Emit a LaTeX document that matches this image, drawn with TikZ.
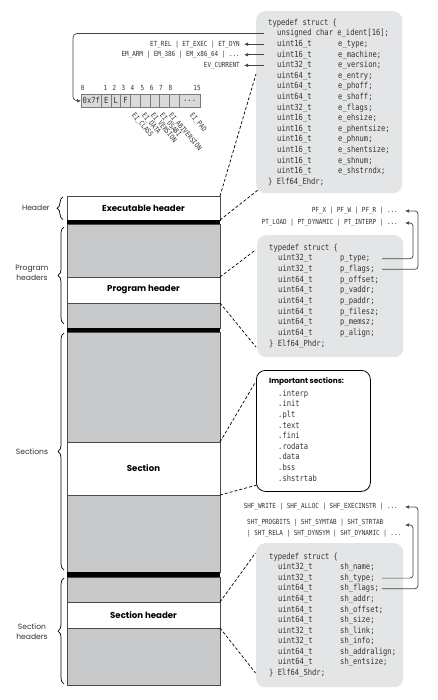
\documentclass[tikz,border=0pt]{standalone}
\usepackage{fontspec}
\setmainfont{Poppins}
\newfontfamily\codefont[FakeStretch=0.85]{DejaVu Sans Mono}
\usetikzlibrary{decorations.pathreplacing,arrows.meta,calc}
\definecolor{blockgray}{HTML}{C8C9CB}
\definecolor{structgray}{HTML}{E4E5E6}
\definecolor{edgegray}{HTML}{4A4A4A}
\definecolor{cellgray}{HTML}{DADADA}
\definecolor{cellborder}{HTML}{7A7A7A}
\definecolor{codegray}{HTML}{333333}
\definecolor{conngray}{HTML}{444444}
\begin{document}
\begin{tikzpicture}[x=1pt,y=-1pt]
\tikzset{
  blk/.style={draw=edgegray, line width=0.8pt, inner sep=0pt, outer sep=0pt, anchor=north west, minimum width=153pt},
  grayblk/.style={blk, fill=blockgray},
  whiteblk/.style={blk, fill=white, font=\bfseries\fontsize{8.6}{10}\selectfont},
  barblk/.style={fill=black, inner sep=0pt, outer sep=0pt, anchor=north west, minimum width=153.8pt},
  structbox/.style={fill=structgray, rounded corners=9pt, inner sep=0pt, anchor=north west},
  secbox/.style={draw=black, fill=white, line width=0.8pt, rounded corners=9pt, inner sep=0pt, anchor=north west},
  code/.style={anchor=west, inner sep=0pt, text=codegray, font=\codefont\fontsize{8.4}{10}\selectfont, text height=6pt, text depth=1.5pt},
  small/.style={inner sep=0pt, text=codegray, font=\codefont\fontsize{7}{10}\selectfont, text height=5pt, text depth=1.2pt},
  cell/.style={draw=cellborder, fill=cellgray, line width=0.6pt, inner sep=0pt, anchor=north west, minimum height=13pt, text=codegray, font=\codefont\fontsize{8.4}{10}\selectfont},
  sidelabel/.style={inner sep=0pt, text=codegray, font=\fontsize{7.6}{10}\selectfont, align=center},
  bracestyle/.style={decorate, decoration={brace, amplitude=6pt}, line width=0.7pt, draw=black},
  dashline/.style={draw=black, line width=0.7pt, dash pattern=on 3pt off 2pt},
  arr/.style={draw=conngray, line width=0.7pt, -{Latex[length=4pt,width=3.6pt]}},
  conn/.style={draw=conngray, line width=0.7pt}
}
\useasboundingbox[fill=white] (0,0) rectangle (438,700);

% ---------- main column ----------
\node[grayblk, minimum height=53pt] (pg1) at (67,224) {};
\node[grayblk, minimum height=25pt] (pg2) at (67,303) {};
\node[grayblk, minimum height=110pt] (sg1) at (67,332) {};
\node[grayblk, minimum height=77pt] (sg2) at (67,495) {};
\node[grayblk, minimum height=25pt] (shg1) at (67,577) {};
\node[grayblk, minimum height=57pt] (shg2) at (67,628) {};
\node[whiteblk, minimum height=24pt] (exec) at (67,196) {Executable header};
\node[whiteblk, minimum height=26pt] (ph) at (67,277) {Program header};
\node[whiteblk, minimum height=53pt] (sec) at (67,442) {Section};
\node[whiteblk, minimum height=26pt] (sh) at (67,602) {Section header};
\node[barblk, minimum height=4pt] (bar1) at (66.6,220) {};
\node[barblk, minimum height=4pt] (bar2) at (66.6,328) {};
\node[barblk, minimum height=5pt] (bar3) at (66.6,572) {};

% ---------- braces and side labels ----------
\coordinate (brHa) at (63,219.5);
\coordinate (brHb) at (63,197);
\coordinate (brPa) at (64,324);
\coordinate (brPb) at (64,227);
\coordinate (brSa) at (64,570);
\coordinate (brSb) at (64,333);
\coordinate (brTa) at (64,684);
\coordinate (brTb) at (64,578);
\draw[bracestyle] (brHa) -- (brHb);
\draw[bracestyle] (brPa) -- (brPb);
\draw[bracestyle] (brSa) -- (brSb);
\draw[bracestyle] (brTa) -- (brTb);
\node[sidelabel, anchor=east] (lblHeader) at (50,207.5) {Header};
\node[sidelabel] (lblProg) at (32,273) {Program\\headers};
\node[sidelabel] (lblSec) at (32,451.5) {Sections};
\node[sidelabel] (lblSh) at (32,631.5) {Section\\headers};

% ---------- ELF header struct ----------
\node[structbox, minimum width=146pt, minimum height=182pt] (ehdr) at (256,11) {};
\node[code] (eh0) at (268,23) {typedef struct \{};
\node[code] (eh1) at (277,33.6) {unsigned char e\_ident[16];};
\foreach \t/\n [count=\i from 2] in {uint16\_t/e\_type;,uint16\_t/e\_machine;,uint32\_t/e\_version;,uint64\_t/e\_entry;,uint64\_t/e\_phoff;,uint64\_t/e\_shoff;,uint32\_t/e\_flags;,uint16\_t/e\_ehsize;,uint16\_t/e\_phentsize;,uint16\_t/e\_phnum;,uint16\_t/e\_shentsize;,uint16\_t/e\_shnum;,uint16\_t/e\_shstrndx;}{
  \node[code] (eht\i) at (277,{23+\i*10.6}) {\t};
  \node[code] (ehn\i) at (338,{23+\i*10.6}) {\n};
}
\node[code] (eh15) at (268,{23+15*10.6}) {\} Elf64\_Ehdr;};

\node[small, anchor=east] (etl) at (240,44.2) {ET\_REL | ET\_EXEC | ET\_DYN};
\node[small, anchor=east] (eml) at (240,54.8) {EM\_ARM | EM\_386 | EM\_x86\_64 | ...};
\node[small, anchor=east] (evl) at (240,65.4) {EV\_CURRENT};
\coordinate (ehIdentS) at (264,33.6);
\coordinate (ehTypeS) at (264,44.2);
\coordinate (ehMachS) at (264,54.8);
\coordinate (ehVerS) at (264,65.4);
\draw[arr] (ehTypeS) -- ([xshift=4pt]etl.east);
\draw[arr] (ehMachS) -- ([xshift=4pt]eml.east);
\draw[arr] (ehVerS) -- ([xshift=4pt]evl.east);

% e_ident byte array
\node[cell, minimum width=20pt] (cell0) at (81,94) {0x7f};
\foreach \i/\t in {1/E,2/L,3/F,4/,5/,6/,7/,8/}{
  \node[cell, minimum width=9.7pt] (cell\i) at ({101+(\i-1)*9.7},94) {\t};
}
\node[cell, minimum width=21.4pt] (cell9) at (178.6,94) {...};
\foreach \i/\x in {0/82.7,1/105.3,2/114.3,3/123.3,4/132.3,5/142.3,6/151.7,7/161,8/170.3,15/197}{
  \node[small] (idx\i) at (\x,89) {\i};
}
\foreach \n/\x/\t in {eiA/133/EI\_CLASS,eiB/143/EI\_DATA,eiC/152/EI\_VERSION,eiD/161/EI\_OSABI,eiE/170/EI\_ABIVERSION,eiF/191/EI\_PAD}{
  \node[small, rotate=-50, anchor=west] (\n) at (\x,114) {\t};
}
\draw[arr, rounded corners=4pt] (ehIdentS) -| ([xshift=-8pt]cell0.west) -- (cell0.west);

% dashed links for executable header
\coordinate (ehA) at (256,74);
\coordinate (ehB) at (258,190);
\draw[dashline] (exec.north east) -- (ehA);
\draw[dashline] (exec.south east) -- (ehB);

% ---------- Program header struct ----------
\node[small, anchor=east] (pfl) at (398,211) {PF\_X | PF\_W | PF\_R | ...};
\node[small, anchor=east] (ptl) at (398,223) {PT\_LOAD | PT\_DYNAMIC | PT\_INTERP | ...};
\node[structbox, minimum width=146pt, minimum height=122pt] (phdr) at (257,235) {};
\node[code] (ph0) at (269,248) {typedef struct \{};
\foreach \t/\n [count=\i] in {uint32\_t/p\_type;,uint32\_t/p\_flags;,uint64\_t/p\_offset;,uint64\_t/p\_vaddr;,uint64\_t/p\_paddr;,uint64\_t/p\_filesz;,uint64\_t/p\_memsz;,uint64\_t/p\_align;}{
  \node[code] (pht\i) at (278,{248+\i*10.67}) {\t};
  \node[code] (phn\i) at (340,{248+\i*10.67}) {\n};
}
\node[code] (ph9) at (269,{248+9*10.67}) {\} Elf64\_Phdr;};
\coordinate (phTypeS) at (382,258.7);
\coordinate (phFlagS) at (382,269.3);
\draw[arr, rounded corners=3pt] (phTypeS) -| ([xshift=15pt]ptl.east) -- ([xshift=7pt]ptl.east);
\draw[arr, rounded corners=3pt] (phFlagS) -| ([xshift=20pt]pfl.east) -- ([xshift=7pt]pfl.east);
\coordinate (phA) at (255.5,250);
\coordinate (phB) at (256,347);
\draw[dashline] (ph.north east) -- (phA);
\draw[dashline] (ph.south east) -- (phB);

% ---------- Important sections ----------
\node[secbox, minimum width=114pt, minimum height=121pt] (impbox) at (256,370) {};
\node[anchor=west, inner sep=0pt, font=\bfseries\fontsize{7.4}{10}\selectfont, text=black] (imptitle) at (269,382) {Important sections:};
\foreach \s [count=\i from 0] in {.interp,.init,.plt,.text,.fini,.rodata,.data,.bss,.shstrtab}{
  \node[code] (imp\i) at (278,{394+\i*10.6}) {\s};
}
\coordinate (secA) at (255.5,382);
\coordinate (secB) at (257,485);
\draw[dashline] (sec.north east) -- (secA);
\draw[dashline] (sec.south east) -- (secB);

% ---------- Section header struct ----------
\node[small, anchor=east] (shfl) at (398,507) {SHF\_WRITE | SHF\_ALLOC | SHF\_EXECINSTR | ...};
\node[small, anchor=west] (shtl) at (247,523) {SHT\_PROGBITS | SHT\_SYMTAB | SHT\_STRTAB};
\node[small, anchor=west] (shtl2) at (247,533.5) {| SHT\_RELA | SHT\_DYNSYM | SHT\_DYNAMIC | ...};
\node[structbox, minimum width=147pt, minimum height=144pt] (shdr) at (256,543) {};
\node[code] (sh0) at (269,557) {typedef struct \{};
\foreach \t/\n [count=\i] in {uint32\_t/sh\_name;,uint32\_t/sh\_type;,uint64\_t/sh\_flags;,uint64\_t/sh\_addr;,uint64\_t/sh\_offset;,uint64\_t/sh\_size;,uint32\_t/sh\_link;,uint32\_t/sh\_info;,uint64\_t/sh\_addralign;,uint64\_t/sh\_entsize;}{
  \node[code] (sht\i) at (278,{557+\i*10.55}) {\t};
  \node[code] (shn\i) at (340,{557+\i*10.55}) {\n};
}
\node[code] (sh11) at (269,{557+11*10.55}) {\} Elf64\_Shdr;};
\coordinate (shTypeS) at (382,578.1);
\coordinate (shFlagS) at (382,588.7);
\coordinate (shtArr) at (405,525);
\draw[arr, rounded corners=3pt] (shTypeS) -| ([xshift=8pt]shtArr) -- (shtArr);
\draw[arr, rounded corners=3pt] (shFlagS) -| ([xshift=20pt]shfl.east) -- ([xshift=7pt]shfl.east);
\coordinate (shA) at (255.5,553);
\coordinate (shB) at (255.5,673);
\draw[dashline] (sh.north east) -- (shA);
\draw[dashline] (sh.south east) -- (shB);
\end{tikzpicture}
\end{document}
